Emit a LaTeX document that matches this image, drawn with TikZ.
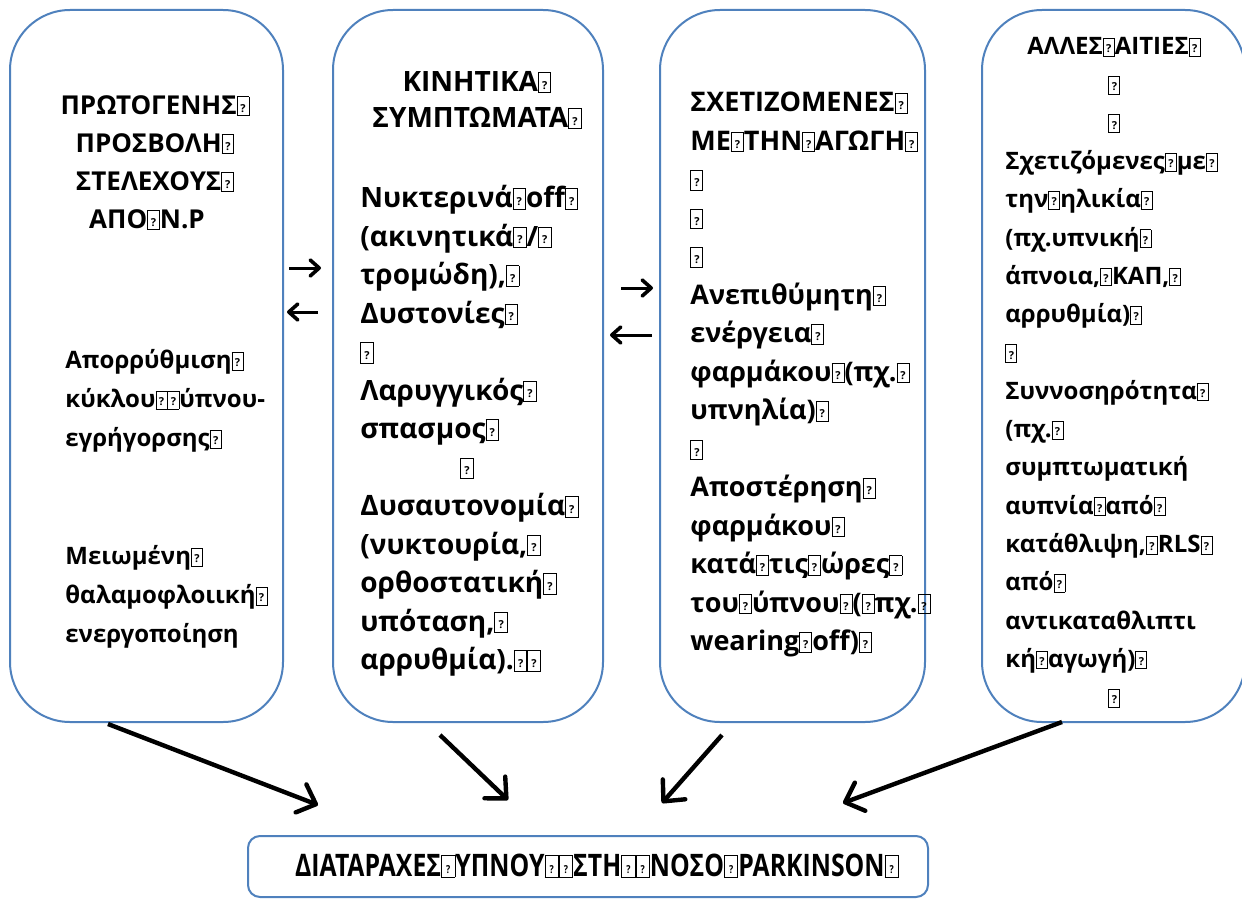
\documentclass[tikz,border=0pt]{standalone}
\usepackage{fontspec}
\setmainfont{Open Sans}
\newfontfamily\condfont{Open Sans}[FakeStretch=0.8]
\usetikzlibrary{arrows.meta}
\definecolor{boxblue}{RGB}{79,129,189}
% placeholder box, as the picture prints it
\newcommand{\miss}{{\setlength{\fboxsep}{0.5pt}\setlength{\fboxrule}{0.45pt}\fbox{\rule{0pt}{0.62em}\makebox[0.34em]{\raisebox{0.08em}{\fontsize{5.5}{5.5}\selectfont ?}}}}}
\tikzset{
  blockbox/.style={draw=boxblue, line width=1pt, rounded corners=30pt, fill=white, inner sep=0pt},
  bodytext/.style={anchor=north west, inner sep=0pt, align=left, execute at begin node={\rule{0pt}{1em}}},
  headtext/.style={anchor=north, inner sep=0pt, align=center, execute at begin node={\rule{0pt}{1em}}},
  smallfont/.style={font=\bfseries\fontsize{12}{19.5}\selectfont},
  largefont/.style={font=\bfseries\fontsize{14}{19.25}\selectfont},
  bigarrow/.style={line width=2.2pt, -{Straight Barb[length=8pt,width=15pt,line width=2.2pt,round]}},
  smallarrow/.style={line width=1.5pt, -{Straight Barb[length=4.5pt,width=8pt,line width=1.8pt,round]}}
}

\begin{document}
\begin{tikzpicture}[x=0.5pt,y=0.5pt,yscale=-1,xscale=1]
\useasboundingbox (0,0) rectangle (1242,899);

%Shape: Rounded Rectangle
\node [blockbox, minimum width=136.5pt, minimum height=356pt] (b1) at (146.5,366) {};
%Shape: Rounded Rectangle
\node [blockbox, minimum width=135pt, minimum height=356pt] (b2) at (468,366) {};
%Shape: Rounded Rectangle
\node [blockbox, minimum width=132.5pt, minimum height=356pt] (b3) at (792.5,366) {};
%Shape: Rounded Rectangle
\node [blockbox, minimum width=131.5pt, minimum height=356pt] (b4) at (1113.5,366) {};
%Shape: Rounded Rectangle
\node [blockbox, rounded corners=6pt, minimum width=340pt, minimum height=30.5pt] (bot) at (588,866.5) {};

%Straight Lines
\coordinate (s1) at (108,724);  \coordinate (e1) at (318,805);
\coordinate (s2) at (440,735);  \coordinate (e2) at (508,800);
\coordinate (s3) at (722,735);  \coordinate (e3) at (662,803);
\coordinate (s4) at (1062,722); \coordinate (e4) at (843,803);
\draw [bigarrow] (s1) -- (e1);
\draw [bigarrow] (s2) -- (e2);
\draw [bigarrow] (s3) -- (e3);
\draw [bigarrow] (s4) -- (e4);

%Straight Lines
\coordinate (r1a) at (289,268); \coordinate (r1b) at (321,268);
\coordinate (l1a) at (318,312); \coordinate (l1b) at (287,312);
\coordinate (r2a) at (621,288); \coordinate (r2b) at (653,288);
\coordinate (l2a) at (652,335); \coordinate (l2b) at (610,335);
\draw [smallarrow] (r1a) -- (r1b);
\draw [smallarrow] (l1a) -- (l1b);
\draw [smallarrow] (r2a) -- (r2b);
\draw [smallarrow] (l2a) -- (l2b);

% Text Node
\node [headtext, font=\bfseries\fontsize{13}{19}\selectfont] (h1) at (155,95) {ΠΡΩΤΟΓΕΝΗΣ\miss\\ΠΡΟΣΒΟΛΗ\miss\\ΣΤΕΛΕΧΟΥΣ\miss\\ΑΠΟ\miss Ν.Ρ\hspace*{8pt}};
% Text Node
\node [bodytext, smallfont] (t1a) at (65,349) {Απορρύθμιση\miss\\κύκλου\miss\miss ύπνου-\\εγρήγορσης\miss};
% Text Node
\node [bodytext, smallfont] (t1b) at (65,545) {Μειωμένη\miss\\θαλαμοφλοιική\miss\\ενεργοποίηση};

% Text Node
\node [headtext, font=\bfseries\fontsize{14}{18}\selectfont] (h2) at (477,71) {ΚΙΝΗΤΙΚΑ\miss\\ΣΥΜΠΤΩΜΑΤΑ\miss};
% Text Node
\node [bodytext, largefont] (t2) at (360,185) {Νυκτερινά\miss off\miss\\(ακινητικά\miss/\miss\\τρομώδη),\miss\\Δυστονίες\miss\\\miss\\Λαρυγγικός\miss\\σπασμος\miss\\\hspace*{50pt}\miss\\Δυσαυτονομία\miss\\(νυκτουρία,\miss\\ορθοστατική\miss\\υπόταση,\miss\\αρρυθμία).\miss\miss};

% Text Node
\node [bodytext, font=\bfseries\fontsize{13.5}{19.25}\selectfont] (t3) at (690,92) {ΣΧΕΤΙΖΟΜΕΝΕΣ\miss\\ΜΕ\miss ΤΗΝ\miss ΑΓΩΓΗ\miss\\\miss\\\miss\\\miss\\Ανεπιθύμητη\miss\\ενέργεια\miss\\φαρμάκου\miss(πχ.\miss\\υπνηλία)\miss\\\miss\\Αποστέρηση\miss\\φαρμάκου\miss\\κατά\miss τις\miss ώρες\miss\\του\miss ύπνου\miss(\miss πχ.\miss\\wearing\miss off)\miss};

% Text Node
\node [bodytext, font=\bfseries\fontsize{12}{19.15}\selectfont] (t4) at (1005,37) {\hspace*{11pt}ΑΛΛΕΣ\miss ΑΙΤΙΕΣ\miss\\\hspace*{51.5pt}\miss\\\hspace*{51.5pt}\miss\\Σχετιζόμενες\miss με\miss\\την\miss ηλικία\miss\\(πχ.υπνική\miss\\άπνοια,\miss ΚΑΠ,\miss\\αρρυθμία)\miss\\\miss\\Συννοσηρότητα\miss\\(πχ.\miss\\συμπτωματική\\αυπνία\miss από\miss\\κατάθλιψη,\miss RLS\miss\\από\miss\\αντικαταθλιπτι\\κή\miss αγωγή)\miss\\\hspace*{51.5pt}\miss};

% Text Node
\node [anchor=base, inner sep=0pt, font=\condfont\bfseries\fontsize{15.5}{18}\selectfont] (tb) at (597,876) {ΔΙΑΤΑΡΑΧΕΣ\miss ΥΠΝΟΥ\miss\miss ΣΤΗ\miss\miss ΝΟΣΟ\miss PARKINSON\miss};

\end{tikzpicture}
\end{document}
